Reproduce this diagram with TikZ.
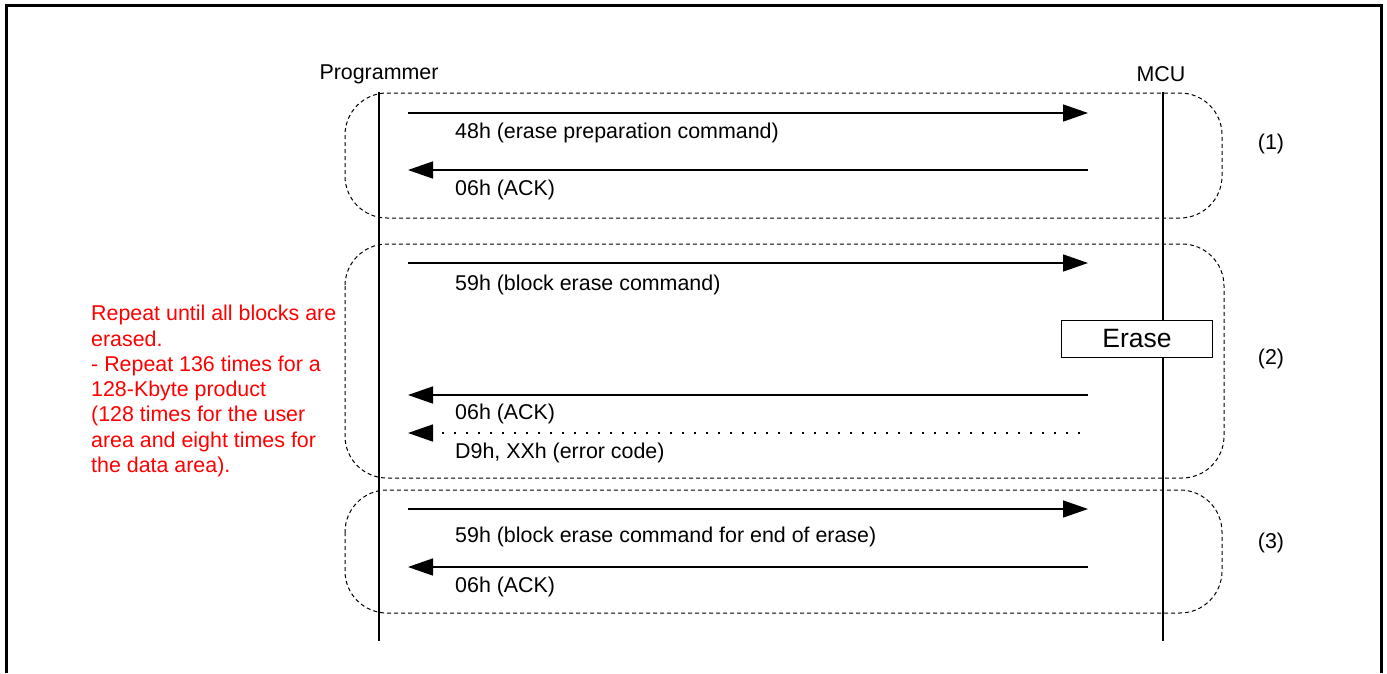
\documentclass[tikz,border=0pt]{standalone}
\usepackage{fontspec}
\setmainfont{Liberation Sans}
\usetikzlibrary{arrows.meta}
\begin{document}
\begin{tikzpicture}[x=1pt,y=-1pt,
  lbl/.style={font=\fontsize{21.4}{25}\selectfont, anchor=west, inner sep=0pt},
  lifeline/.style={line width=1.8pt},
  msg/.style={line width=1.6pt, -{Triangle[length=25pt,width=17pt]}},
  errmsg/.style={line width=1.6pt, dash pattern=on 1.6pt off 10.4pt, -{Triangle[length=25pt,width=17pt]}},
  grp/.style={draw, line width=1pt, dash pattern=on 4pt off 3pt, rounded corners=42pt},
  note/.style={font=\fontsize{21.4}{25.3}\selectfont, text=red, align=left, anchor=north west, inner sep=0pt}]
\useasboundingbox (0,0) rectangle (1387,673);
% frame
\draw[line width=3pt] (6,673) -- (6,5) -- (1381,5) -- (1381,673);
% group boxes
\draw[grp] (345,93) rectangle (1222,218);
\draw[grp] (345,244) rectangle (1224,478);
\draw[grp] (345,490) rectangle (1222,613);
% lifelines
\node[lbl, anchor=center] (prog) at (379,74) {Programmer};
\node[lbl, anchor=center] (mcu) at (1161,74) {MCU};
\coordinate (pt) at (379,92); \coordinate (pb) at (379,641);
\coordinate (mt) at (1163,92); \coordinate (mb) at (1163,641);
\draw[lifeline] (pt) -- (pb);
\draw[lifeline] (mt) -- (mb);
% message endpoints
\foreach \n/\y in {a/113,b/170,c/263,d/395,e/433,f/509,g/567}{
  \coordinate (L\n) at (408,\y);
  \coordinate (R\n) at (1088,\y);
}
\coordinate (Re2) at (1080,433);
\draw[msg] (La) -- (Ra);
\node[lbl] (ta) at (455,133) {48h (erase preparation command)};
\draw[msg] (Rb) -- (Lb);
\node[lbl] (tb) at (455,190) {06h (ACK)};
\draw[msg] (Lc) -- (Rc);
\node[lbl] (tc) at (455,285) {59h (block erase command)};
\node[draw, fill=white, line width=1.3pt, minimum width=151pt, minimum height=37pt, inner sep=0pt,
      font=\fontsize{26.5}{30}\selectfont] (erase) at (1137,339) {Erase};
\draw[msg] (Rd) -- (Ld);
\node[lbl] (td) at (455,414) {06h (ACK)};
\draw[errmsg] (Re2) -- (Le);
\node[lbl] (te) at (455,453) {D9h, XXh (error code)};
\draw[msg] (Lf) -- (Rf);
\node[lbl] (tf) at (455,537) {59h (block erase command for end of erase)};
\draw[msg] (Rg) -- (Lg);
\node[lbl] (tg) at (455,587) {06h (ACK)};
% group numbers
\node[lbl, anchor=center] (n1) at (1271,144) {(1)};
\node[lbl, anchor=center] (n2) at (1271,359) {(2)};
\node[lbl, anchor=center] (n3) at (1271,543) {(3)};
% note
\node[note] (note) at (91,305) {Repeat until all blocks are\\erased.\\- Repeat 136 times for a\\128-Kbyte product\\(128 times for the user\\area and eight times for\\the data area).};
\end{tikzpicture}
\end{document}
